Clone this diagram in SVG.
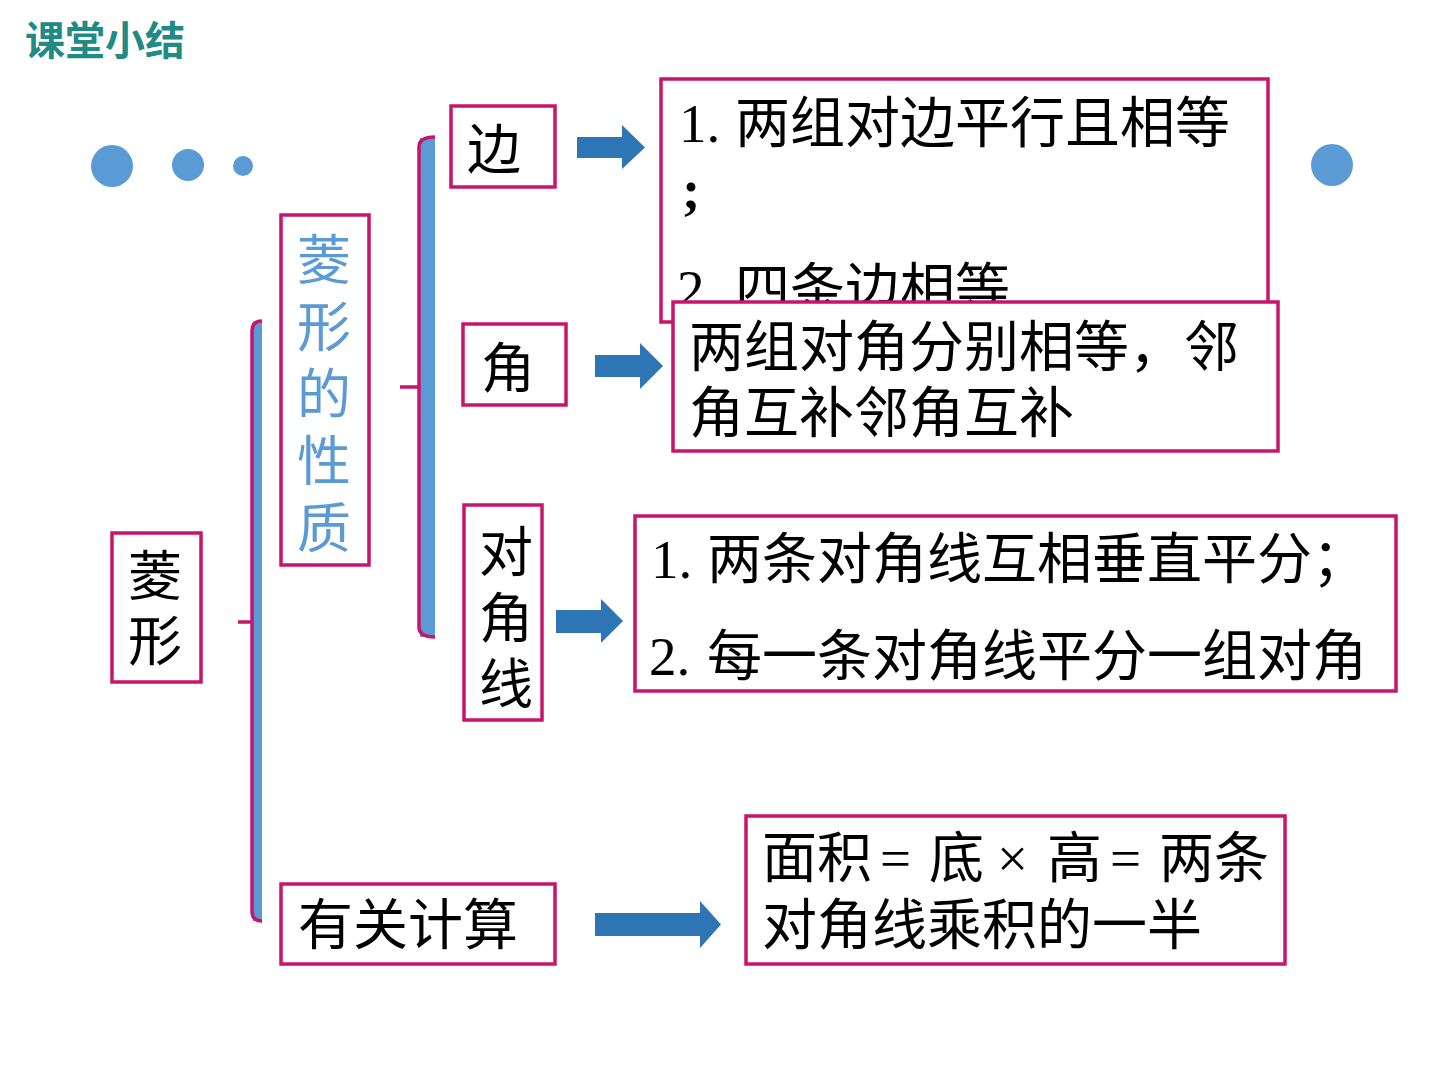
<svg xmlns="http://www.w3.org/2000/svg" width="1440" height="1080" viewBox="0 0 1440 1080">
<style>
.box{fill:#ffffff;stroke:#c8146a;stroke-width:3.5}
.t{font-family:"Liberation Serif","Noto Sans CJK SC",sans-serif;font-size:55px;fill:#000}
.c{font-family:"Noto Sans CJK SC",sans-serif;font-size:54px;fill:#000}
.v{font-family:"Noto Sans CJK SC",sans-serif;font-size:54px;writing-mode:vertical-rl}
.arrow{fill:#2e75b6}
.bar{fill:#5b9bd5}
.brk{fill:none;stroke:#c8146a;stroke-width:3.5}
.dot{fill:#5b9bd5}
</style>
<rect width="1440" height="1080" fill="#ffffff"/>
<text x="25" y="55" style="font-family:'Noto Sans CJK SC',sans-serif;font-size:40px;font-weight:700;fill:#1f8a86">课堂小结</text>
<g id="dots">
<circle class="dot" cx="112" cy="166" r="21"/>
<circle class="dot" cx="188" cy="165" r="16"/>
<circle class="dot" cx="243" cy="166" r="10"/>
<circle class="dot" cx="1332" cy="165" r="21"/>
</g>
<g id="connectors">
<rect class="bar" x="253" y="322" width="9" height="599"/>
<path class="brk" d="M262 321 Q252 321 252 331 L252 911 Q252 921 262 921 M238 622 L252 622"/>
<rect class="bar" x="420" y="138" width="15" height="499"/>
<path class="brk" d="M435 137 Q419 137 419 147 L419 627 Q419 637 435 637 M400 387 L419 387"/>
<path class="arrow" d="M577 137 L622 137 L622 125 L645 147.5 L622 169 L622 158 L577 158 Z"/>
<path class="arrow" d="M595 355 L640 355 L640 343 L663 366 L640 389 L640 377 L595 377 Z"/>
<path class="arrow" d="M556 610 L601 610 L601 599 L623 621 L601 643 L601 633 L556 633 Z"/>
<path class="arrow" d="M595 913 L700 913 L700 901 L721 924.5 L700 948 L700 936 L595 936 Z"/>
</g>
<g id="node-lingxing">
<rect class="box" x="112" y="533" width="89" height="149"/>
<text class="v" x="155" y="548" style="letter-spacing:11px;fill:#000">菱形</text>
</g>
<g id="node-xingzhi">
<rect class="box" x="281" y="215" width="88" height="350"/>
<text class="v" x="324" y="232" style="letter-spacing:13px;fill:#5b9bd5">菱形的性质</text>
</g>
<g id="node-bian">
<rect class="box" x="451" y="106" width="104" height="81"/>
<text class="c" x="467" y="169">边</text>
</g>
<g id="node-jiao">
<rect class="box" x="463" y="324" width="103" height="81"/>
<text class="c" x="481" y="388">角</text>
</g>
<g id="node-duijiaoxian">
<rect class="box" x="464" y="505" width="78" height="215"/>
<text class="v" x="506" y="524" style="letter-spacing:12px;fill:#000">对角线</text>
</g>
<g id="node-jisuan">
<rect class="box" x="281" y="884" width="274" height="80"/>
<text class="c" x="298" y="944" style="font-size:55px">有关计算</text>
</g>
<g id="node-bian-detail">
<rect class="box" x="661" y="79" width="607" height="243"/>
<text class="t" x="679" y="142">1.<tspan x="735" style="font-family:'Noto Sans CJK SC',sans-serif">两组对边平行且相等</tspan></text>
<text class="t" x="682" y="208" style="font-weight:700">;</text>
<text class="t" x="677" y="308">2.<tspan x="735" style="font-family:'Noto Sans CJK SC',sans-serif">四条边相等</tspan></text>
</g>
<g id="node-jiao-detail">
<rect class="box" x="673" y="302" width="605" height="149"/>
<text class="c" x="689" y="366" style="font-size:55px">两组对角分别相等，邻</text>
<text class="c" x="689" y="432" style="font-size:55px">角互补邻角互补</text>
</g>
<g id="node-duijiaoxian-detail">
<rect class="box" x="635" y="516" width="761" height="175"/>
<text class="t" x="651" y="578">1.<tspan x="707" style="font-family:'Noto Sans CJK SC',sans-serif">两条对角线互相垂直平分；</tspan></text>
<text class="t" x="649" y="675">2.<tspan x="707" style="font-family:'Noto Sans CJK SC',sans-serif">每一条对角线平分一组对角</tspan></text>
</g>
<g id="node-mianji">
<rect class="box" x="746" y="816" width="539" height="148"/>
<text class="c" x="762" y="877" style="font-size:55px">面积<tspan x="880" style="font-family:'Liberation Serif',serif">=</tspan><tspan x="929">底</tspan><tspan x="997" style="font-family:'Liberation Serif',serif">×</tspan><tspan x="1047">高</tspan><tspan x="1110" style="font-family:'Liberation Serif',serif">=</tspan><tspan x="1159">两条</tspan></text>
<text class="c" x="762" y="944" style="font-size:55px">对角线乘积的一半</text>
</g>
</svg>
